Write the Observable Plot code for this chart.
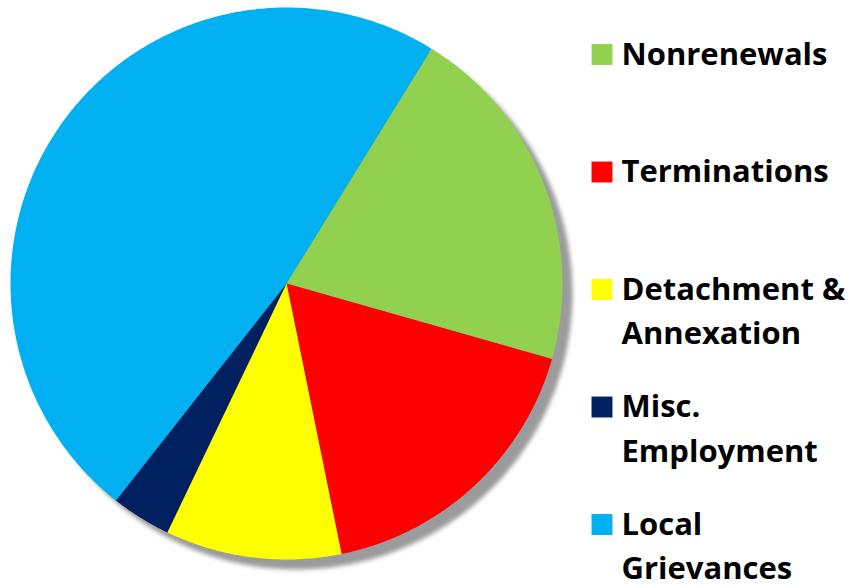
<!DOCTYPE html>
<html>
<head>
<meta charset="utf-8">
<script src="https://cdn.jsdelivr.net/npm/d3@7"></script>
<script src="https://cdn.jsdelivr.net/npm/@observablehq/plot@0.6"></script>
<style>
html,body{margin:0;padding:0;background:#fff;}
</style>
</head>
<body>
<div id="chart"></div>
<script>
const categories = ["Nonrenewals", "Terminations", "Detachment & Annexation", "Misc. Employment", "Local Grievances"];
const legendLabels = ["Nonrenewals", "Terminations", "Detachment &\nAnnexation", "Misc.\nEmployment", "Local\nGrievances"];
const values = [20.6, 17.4, 10.3, 3.5, 48.2];
const colors = ["#92D050", "#FF0000", "#FFFF00", "#002060", "#00B0F0"];

const W = 853, H = 588;
const cx = 286, cy = 283, R = 276;
const startDeg = 31.7;

const pie = d3.pie().sort(null).value(d => d.value)
  .startAngle(startDeg * Math.PI / 180)
  .endAngle(startDeg * Math.PI / 180 + 2 * Math.PI);
const rows = categories.map((c, i) => ({category: c, value: values[i], color: colors[i]}));
const arcs = pie(rows);

function pt(a, ox = 0, oy = 0) { return [cx + ox + R * Math.sin(a), cy + oy - R * Math.cos(a)]; }
function arcPoints(a0, a1, ox = 0, oy = 0) {
  const n = Math.max(2, Math.ceil((a1 - a0) / (Math.PI / 360)));
  return d3.range(n + 1).map(k => pt(a0 + (a1 - a0) * k / n, ox, oy));
}
const sliceFeatures = arcs.map(a => ({
  type: "Feature",
  properties: {category: a.data.category, color: a.data.color},
  geometry: {type: "Polygon", coordinates: [[[cx, cy], ...arcPoints(a.startAngle, a.endAngle), [cx, cy]]]}
}));
const shadowRing = arcPoints(0, 2 * Math.PI, 10, 10);
const shadow = {type: "Feature", properties: {}, geometry: {type: "Polygon", coordinates: [shadowRing]}};
const frame = {type: "Polygon", coordinates: [[[0, 0], [W, 0], [W, H], [0, H], [0, 0]]]};

const fontSize = 31, lineH = 44.5, firstBase = 64, step = 117.5;
const legendRows = legendLabels.map((l, i) => {
  const nl = l.split("\n").length;
  return {label: l, color: colors[i], base: firstBase + i * step, last: firstBase + i * step + (nl - 1) * lineH};
});

const plot = Plot.plot({
  width: W, height: H, margin: 0,
  projection: {type: "identity", domain: frame},
  marks: [
    Plot.geo([shadow], {fill: "#9b9b9b"}),
    Plot.geo(sliceFeatures, {fill: d => d.properties.color}),
    Plot.dot(legendRows, {x: () => 601.5, y: d => d.base - 10, symbol: "square", r: 11.8, fill: d => d.color, stroke: "none"}),
    Plot.text(legendRows, {x: () => 621, y: d => d.last, text: "label", textAnchor: "start", lineAnchor: "bottom",
      lineHeight: lineH / fontSize, fontSize, fontWeight: "bold", fontFamily: "Open Sans", fill: "#000"})
  ]
});
document.getElementById("chart").appendChild(plot);
const g = plot.querySelector('g[aria-label="geo"]');
if (g) g.style.filter = "blur(2px)";
</script>
</body>
</html>
